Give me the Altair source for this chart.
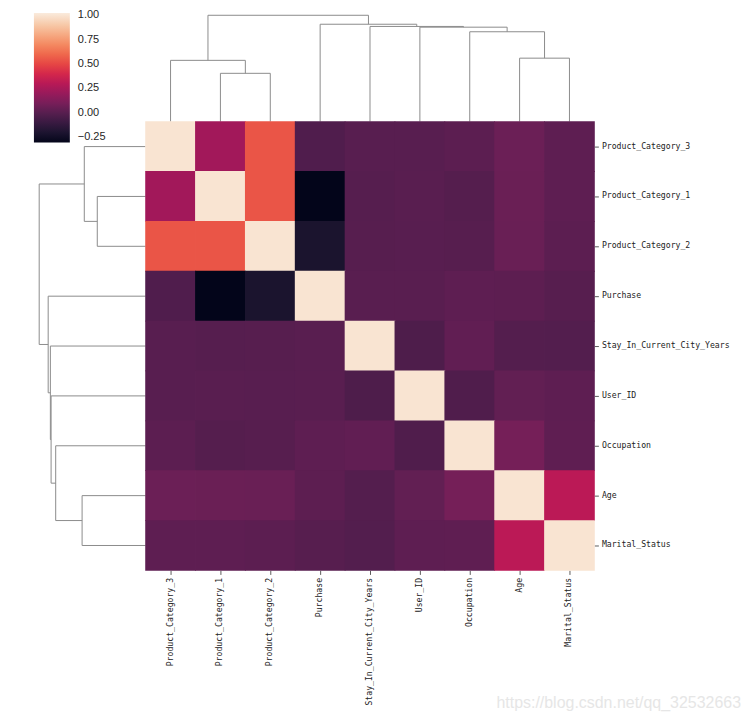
import altair as alt
import pandas as pd

# ---------------- data ----------------
variables = ["Product_Category_3", "Product_Category_1", "Product_Category_2", "Purchase",
             "Stay_In_Current_City_Years", "User_ID", "Occupation", "Age", "Marital_Status"]

r_pc3      = [1.000, 0.230, 0.540, -0.022, 0.002, 0.003, 0.013, 0.061, 0.020]
r_pc1      = [0.230, 1.000, 0.540, -0.305, -0.004, 0.004, -0.008, 0.057, 0.020]
r_pc2      = [0.540, 0.540, 1.000, -0.210, -0.001, 0.002, 0.000, 0.055, 0.015]
r_purchase = [-0.022, -0.305, -0.210, 1.000, 0.005, 0.005, 0.021, 0.016, -0.001]
r_stay     = [0.002, -0.004, -0.001, 0.005, 1.000, -0.031, 0.030, -0.010, -0.013]
r_user     = [0.003, 0.004, 0.002, 0.005, -0.031, 1.000, -0.024, 0.033, 0.020]
r_occ      = [0.013, -0.008, 0.000, 0.021, 0.030, -0.024, 1.000, 0.091, 0.024]
r_age      = [0.061, 0.057, 0.055, 0.016, -0.010, 0.033, 0.091, 1.000, 0.310]
r_marital  = [0.020, 0.020, 0.015, -0.001, -0.013, 0.020, 0.024, 0.310, 1.000]
corr_rows = [r_pc3, r_pc1, r_pc2, r_purchase, r_stay, r_user, r_occ, r_age, r_marital]

# hierarchical linkage (children: leaf name or "n<k>" = k-th merge), merge heights
link_left   = ["Product_Category_1", "Product_Category_3", "Age", "Occupation", "User_ID",
               "Stay_In_Current_City_Years", "Purchase", "n1"]
link_right  = ["Product_Category_2", "n0", "Marital_Status", "n2", "n3", "n4", "n5", "n6"]
link_height = [0.727, 0.922, 0.955, 1.352, 1.421, 1.432, 1.465, 1.600]

colorbar_ticks = [-0.25, 0.0, 0.25, 0.50, 0.75, 1.00]
watermark = "https://blog.csdn.net/qq_32532663"

# seaborn "rocket" colormap stops
rocket = ["#03051a", "#35193e", "#701f57", "#ad1759", "#e13342", "#f37651", "#f6b48f", "#faebdd"]
c_min, c_max = -0.305, 1.025
c_stops = [c_min + (c_max - c_min) * i / (len(rocket) - 1) for i in range(len(rocket))]

# ---------------- tables ----------------
cells = pd.DataFrame([
    {"row": variables[i], "col": variables[j], "r": corr_rows[i][j]}
    for i in range(len(variables)) for j in range(len(variables))
])

pos = {v: float(i) for i, v in enumerate(variables)}
hgt = {v: 0.0 for v in variables}
segs = []
for k, (a, b, h) in enumerate(zip(link_left, link_right, link_height)):
    pa, pb, ha, hb = pos[a], pos[b], hgt[a], hgt[b]
    segs.append(dict(p1=pa, p2=pa, h1=ha, h2=h))
    segs.append(dict(p1=pa, p2=pb, h1=h, h2=h))
    segs.append(dict(p1=pb, p2=pb, h1=hb, h2=h))
    pos[f"n{k}"] = (pa + pb) / 2
    hgt[f"n{k}"] = h
seg = pd.DataFrame(segs)

# ---------------- layout ----------------
HM_W, HM_H = 450, 450
TOP_H, LEFT_W = 110, 135
CELL = HM_W / len(variables)
pos_dom = [-0.5, len(variables) - 0.5]
line_color = "#8c8c8c"
label_font = "DejaVu Sans Mono"

top = alt.Chart(seg).mark_rule(color=line_color, strokeWidth=1).encode(
    x=alt.X("p1:Q", scale=alt.Scale(domain=pos_dom, nice=False, zero=False), axis=None),
    x2="p2:Q",
    y=alt.Y("h1:Q", scale=alt.Scale(domain=[0, 1.65], nice=False), axis=None),
    y2="h2:Q",
).properties(width=HM_W, height=TOP_H)

left = alt.Chart(seg).mark_rule(color=line_color, strokeWidth=1).encode(
    y=alt.Y("p1:Q", scale=alt.Scale(domain=pos_dom, nice=False, zero=False, reverse=True), axis=None),
    y2="p2:Q",
    x=alt.X("h1:Q", scale=alt.Scale(domain=[0, 2.024], nice=False, reverse=True), axis=None),
    x2="h2:Q",
).properties(width=LEFT_W, height=HM_H)

spacer = alt.Chart(pd.DataFrame({"s": [0]})).mark_point(opacity=0).encode(
    x=alt.value(0), y=alt.value(0)
).properties(width=LEFT_W, height=TOP_H)

axis_common = dict(title=None, labelFont=label_font, labelFontSize=8.2, labelColor="#222222",
                   tickSize=4, tickColor="#333333", tickWidth=0.8, labelPadding=3,
                   domain=False, grid=False)

heat = alt.Chart(cells).mark_rect(width=CELL + 0.8, height=CELL + 0.8).encode(
    x=alt.X("col:N", sort=variables, scale=alt.Scale(paddingInner=0, paddingOuter=0),
            axis=alt.Axis(orient="bottom", labelAngle=-90, **axis_common)),
    y=alt.Y("row:N", sort=variables, scale=alt.Scale(paddingInner=0, paddingOuter=0),
            axis=alt.Axis(orient="right", **axis_common)),
    color=alt.Color("r:Q", scale=alt.Scale(domain=c_stops, range=rocket),
                    legend=alt.Legend(orient="none", legendX=23, legendY=1, direction="vertical",
                                      gradientLength=130, gradientThickness=36,
                                      values=colorbar_ticks, format=".2f", title=None,
                                      labelFont="Liberation Sans", labelFontSize=11,
                                      labelColor="#262626", labelOffset=8,
                                      gradientStrokeWidth=0)),
).properties(width=HM_W, height=HM_H)

mark_wm = alt.Chart(pd.DataFrame({"t": [watermark]})).mark_text(
    align="right", baseline="middle", fontSize=16, font="Liberation Sans", color="#e6e6e6"
).encode(text="t:N", x=alt.value(HM_W + 147), y=alt.value(HM_H + 133))

heat_layer = alt.layer(heat, mark_wm).properties(width=HM_W, height=HM_H)

chart = alt.concat(
    spacer, top, left, heat_layer,
    columns=2, spacing=0, bounds="flush",
).properties(padding=0, background="white").configure_view(strokeWidth=0)

chart.save("out.html", embed_options={"renderer": "svg", "actions": False})
